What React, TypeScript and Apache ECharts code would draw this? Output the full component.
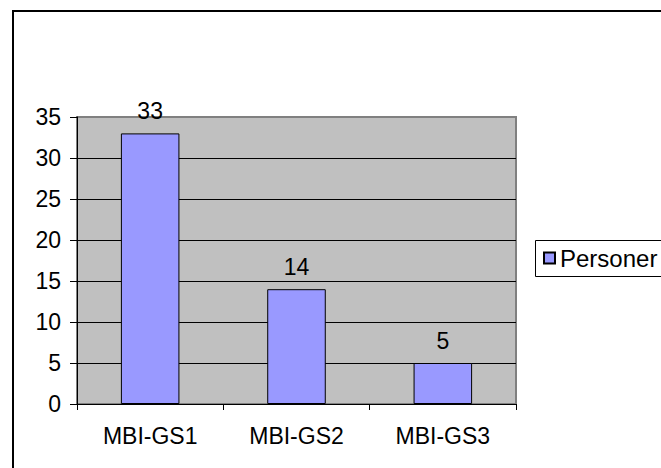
import React, { useEffect, useRef } from "react";
import * as echarts from "echarts";

const categories = ["MBI-GS1", "MBI-GS2", "MBI-GS3"];
const seriesName = "Personer";
const values = [33, 14, 5];
const yMin = 0;
const yMax = 35;
const yInterval = 5;

const FONT = "Arial, 'Liberation Sans', sans-serif";

export default function App() {
  const ref = useRef<HTMLDivElement>(null);
  useEffect(() => {
    document.body.style.margin = "0";
    const chart = echarts.init(ref.current!, undefined, { renderer: "svg" });
    chart.setOption({
      animation: false,
      backgroundColor: "#FFFFFF",
      textStyle: { fontFamily: FONT },
      graphic: [
        {
          type: "polyline",
          shape: { points: [[13, 1000], [13, 11], [1000, 11]] },
          style: { fill: "none", stroke: "#000000", lineWidth: 2 },
          silent: true,
        },
        {
          type: "polyline",
          shape: { points: [[700, 240.5], [535.5, 240.5], [535.5, 276.5], [700, 276.5]] },
          style: { fill: "none", stroke: "#000000", lineWidth: 1 },
          silent: true,
        },
      ],
      grid: {
        left: 77,
        top: 117,
        right: 145,
        bottom: 64,
        show: true,
        backgroundColor: "#C0C0C0",
        borderColor: "#808080",
        borderWidth: 2,
      },
      legend: {
        left: 535,
        top: 240,
        orient: "vertical",
        data: [seriesName],
        icon: "rect",
        itemWidth: 11,
        itemHeight: 11,
        borderWidth: 0,
        padding: [6, 0, 6, 8],
        textStyle: { fontSize: 24, color: "#000000", fontFamily: FONT },
      },
      xAxis: {
        type: "category",
        data: categories,
        axisLine: { show: true, lineStyle: { color: "#000000", width: 1 } },
        axisTick: { show: true, alignWithLabel: false, length: 6, lineStyle: { color: "#000000" } },
        axisLabel: { fontSize: 23, color: "#000000", margin: 20, fontFamily: FONT },
        splitLine: { show: false },
      },
      yAxis: {
        type: "value",
        min: yMin,
        max: yMax,
        interval: yInterval,
        axisLine: { show: true, lineStyle: { color: "#000000", width: 1 } },
        axisTick: { show: true, length: 7, lineStyle: { color: "#000000" } },
        axisLabel: { fontSize: 23, color: "#000000", margin: 16, fontFamily: FONT },
        splitLine: { show: true, showMaxLine: false, lineStyle: { color: "#000000", width: 1 } },
      },
      series: [
        {
          name: seriesName,
          type: "bar",
          data: values,
          barWidth: "40%",
          itemStyle: { color: "#9999FF", borderColor: "#000000", borderWidth: 1 },
          label: {
            show: true,
            position: "top",
            distance: 11,
            fontSize: 23,
            color: "#000000",
            fontFamily: FONT,
          },
        },
      ],
    });
    return () => chart.dispose();
  }, []);
  return (
    <div
      ref={ref}
      style={{ position: "fixed", left: 0, top: 0, width: 661, height: 468 }}
    />
  );
}
